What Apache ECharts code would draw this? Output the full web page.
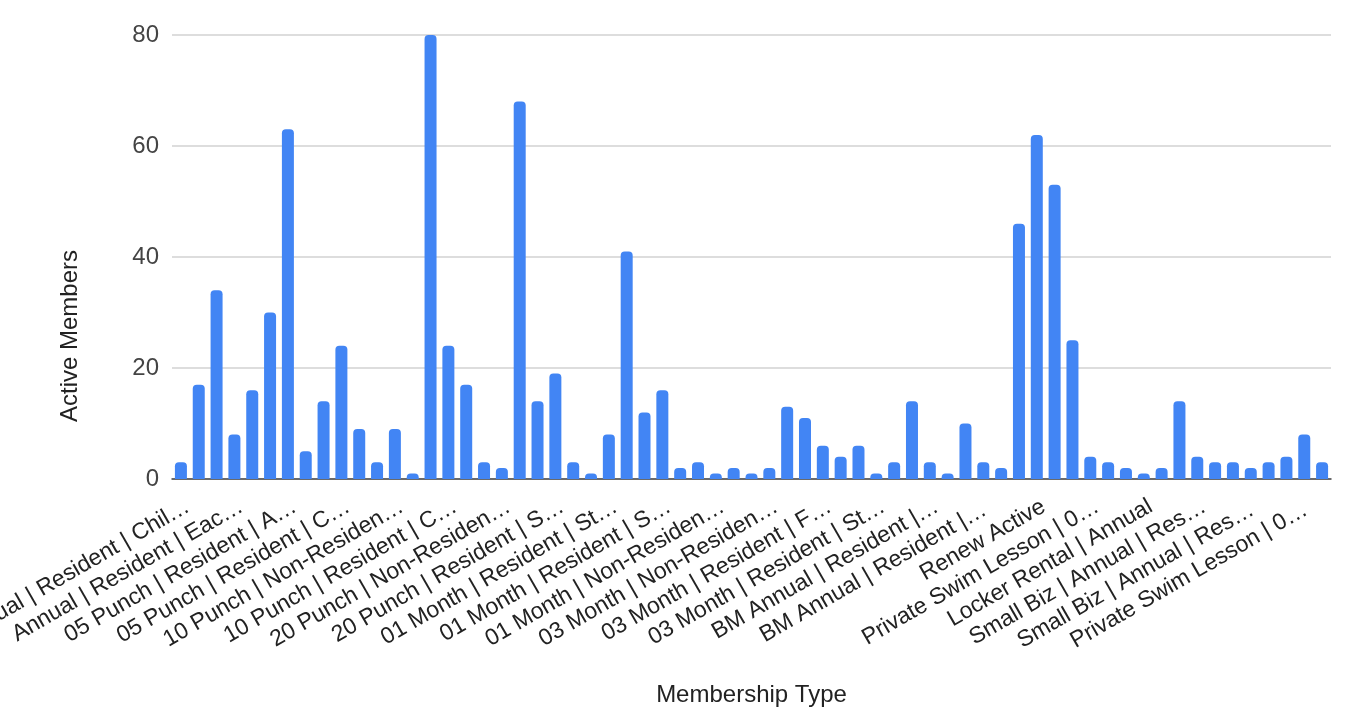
<!DOCTYPE html>
<html>
<head>
<meta charset="utf-8">
<script src="https://cdn.jsdelivr.net/npm/echarts@6/dist/echarts.min.js"></script>
<style>
html,body{margin:0;padding:0;background:#fff;}
#chart{width:1364px;height:709px;}
</style>
</head>
<body>
<div id="chart"></div>
<script>
var categories = [
  "Annual | Resident | Chil…", "Annual | Resident | Adult", "Annual | Resident | Senior",
  "Annual | Resident | Eac…", "Annual | Resident | Family", "Annual | Resident | Student",
  "05 Punch | Resident | A…", "05 Punch | Resident | Senior", "05 Punch | Resident | Student",
  "05 Punch | Resident | C…", "05 Punch | Non-Resident | Adult", "05 Punch | Non-Resident | Child",
  "10 Punch | Non-Residen…", "10 Punch | Resident | Adult", "10 Punch | Resident | Senior",
  "10 Punch | Resident | C…", "10 Punch | Resident | Student", "10 Punch | Non-Resident | Child",
  "20 Punch | Non-Residen…", "20 Punch | Resident | Adult", "20 Punch | Resident | Child",
  "20 Punch | Resident | S…", "20 Punch | Resident | Student", "01 Month | Resident | Adult",
  "01 Month | Resident | St…", "01 Month | Resident | Family", "01 Month | Resident | Child",
  "01 Month | Resident | S…", "01 Month | Non-Resident | Adult", "01 Month | Non-Resident | Senior",
  "01 Month | Non-Residen…", "03 Month | Non-Resident | Adult", "03 Month | Non-Resident | Senior",
  "03 Month | Non-Residen…", "03 Month | Resident | Adult", "03 Month | Resident | Senior",
  "03 Month | Resident | F…", "03 Month | Resident | Child", "03 Month | Resident | Each Additional",
  "03 Month | Resident | St…", "BM Annual | Resident | Adult", "BM Annual | Resident | Senior",
  "BM Annual | Resident |…", "BM Annual | Resident | Child", "BM Annual | Non-Resident | Adult",
  "BM Annual | Resident |… ", "BM Annual | Non-Resident | Family", "Renew Pending",
  "Renew Active", "Renew Expired", "Private Swim Lesson | 01 Session",
  "Private Swim Lesson | 0…", "Private Swim Lesson | 10 Sessions", "Locker Rental | Monthly",
  "Locker Rental | Annual", "Locker Rental | Daily", "Small Biz | Annual | Non-Resident",
  "Small Biz | Annual | Res…", "Small Biz | Monthly | Resident", "Small Biz | Monthly | Non-Resident",
  "Small Biz | Annual | Res… ", "Small Biz | Annual | Each Additional", "Private Swim Lesson | 03 Sessions",
  "Private Swim Lesson | 0… ", "Private Swim Lesson | 08 Sessions"
];
var activeMembers = [
  3, 17, 34, 8, 16, 30, 63, 5, 14, 24, 9, 3, 9, 1, 80, 24, 17, 3, 2, 68,
  14, 19, 3, 1, 8, 41, 12, 16, 2, 3, 1, 2, 1, 2, 13, 11, 6, 4, 6, 1,
  3, 14, 3, 1, 10, 3, 2, 46, 62, 53, 25, 4, 3, 2, 1, 2, 14, 4, 3, 3,
  2, 3, 4, 8, 3
];
var yTicks = { min: 0, max: 80, interval: 20 };

var chart = echarts.init(document.getElementById('chart'));
chart.setOption({
  animation: false,
  backgroundColor: '#ffffff',
  textStyle: { fontFamily: 'Arial, "Liberation Sans", sans-serif' },
  grid: { left: 172, right: 33, top: 35, bottom: 230, containLabel: false, outerBoundsMode: 'none' },
  graphic: [{
    type: 'text',
    x: 70, y: 336,
    rotation: Math.PI / 2,
    style: {
      text: 'Active Members',
      fontSize: 24,
      fontFamily: 'Arial, "Liberation Sans", sans-serif',
      fill: '#222',
      align: 'center',
      verticalAlign: 'middle'
    }
  }],
  xAxis: {
    type: 'category',
    data: categories,
    name: 'Membership Type',
    nameLocation: 'middle',
    nameGap: 204,
    nameTextStyle: { fontSize: 24, color: '#222' },
    axisLine: { lineStyle: { color: '#444', width: 1.5 } },
    axisTick: { show: false },
    axisLabel: {
      interval: 2,
      rotate: 30,
      fontSize: 23,
      color: '#222',
      margin: 30,
      padding: [0, -8, 0, 0]
    }
  },
  yAxis: {
    type: 'value',
    min: yTicks.min,
    max: yTicks.max,
    interval: yTicks.interval,
    axisLine: { show: false },
    axisTick: { show: false },
    axisLabel: { fontSize: 24, color: '#444', margin: 13 },
    splitLine: { lineStyle: { color: '#d2d2d2', width: 1.5 } }
  },
  series: [{
    type: 'bar',
    data: activeMembers,
    barWidth: 12,
    itemStyle: { color: '#4285f4', borderRadius: [4, 4, 0, 0] }
  }]
});
</script>
</body>
</html>
